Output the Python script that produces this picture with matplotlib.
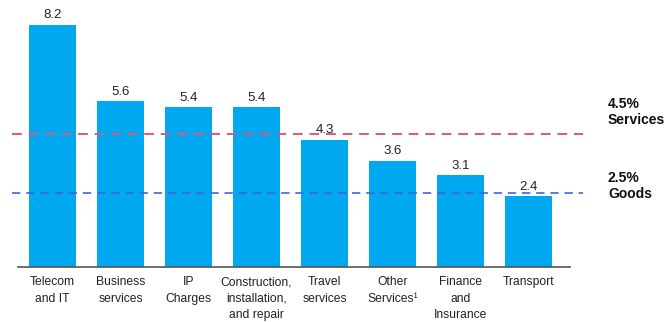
import matplotlib.pyplot as plt

plt.rcParams['font.family'] = ['Liberation Sans', 'DejaVu Sans']

categories = ['Telecom\nand IT', 'Business\nservices', 'IP\nCharges',
              'Construction,\ninstallation,\nand repair', 'Travel\nservices',
              'Other\nServices\u00b9', 'Finance\nand\nInsurance', 'Transport']
values = [8.2, 5.6, 5.4, 5.4, 4.3, 3.6, 3.1, 2.4]
services_avg = 4.5
goods_avg = 2.5

bar_color = '#00a8f0'
fig = plt.figure(figsize=(6.67, 3.22), dpi=100)
ax = fig.add_axes([12 / 667, 1 - 267 / 322, 571 / 667, 266 / 322])

x = range(len(categories))
ax.bar(x, values, width=0.69, color=bar_color, zorder=2)
for xi, v in zip(x, values):
    ax.text(xi, v + 0.12, f'{v:.1f}', ha='center', va='bottom',
            fontsize=9.5, color='#222222', zorder=4)

# reference averages
ax.axhline(services_avg, color='#e8566e', lw=1.4, dashes=(5, 3.5), zorder=3)
ax.axhline(goods_avg, color='#4262e0', lw=1.2, dashes=(5, 3.5), zorder=3)

# baseline under the bars
ax.plot([-0.51, 7.61], [0, 0], color='#555555', lw=1.2, clip_on=False, zorder=3)

ax.set_xlim(-0.596, 7.80)
ax.set_ylim(0, 9)
ax.axis('off')

for xi, lab in zip(x, categories):
    ax.text(xi, -0.32, lab, ha='center', va='top', fontsize=8.7,
            color='#222222', linespacing=1.5)

fig.text(608 / 667, 1 - 112 / 322, f'{services_avg}%\nServices', ha='left',
         va='center', fontsize=10, fontweight='bold', color='#111111',
         linespacing=1.1)
fig.text(608 / 667, 1 - 186 / 322, f'{goods_avg}%\nGoods', ha='left',
         va='center', fontsize=10, fontweight='bold', color='#111111',
         linespacing=1.1)

fig.savefig('out.png', dpi=100)
